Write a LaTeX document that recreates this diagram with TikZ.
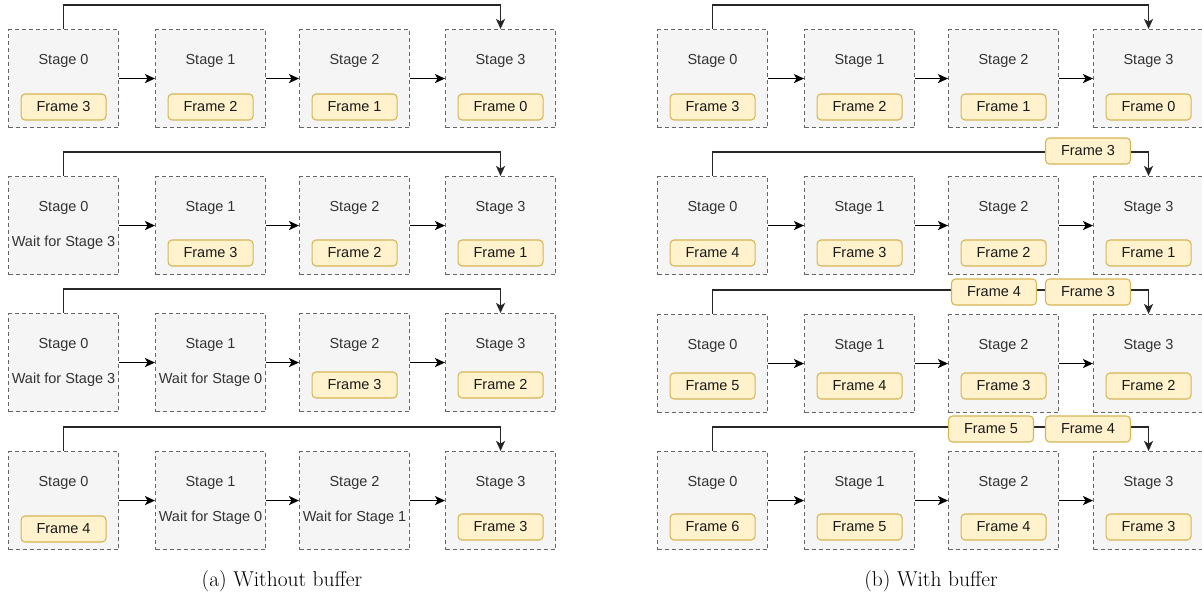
\documentclass[tikz,border=0pt]{standalone}
\usepackage{fontspec}
\newfontfamily\boxfont{Liberation Sans}
\usetikzlibrary{calc,arrows.meta}
\definecolor{boxfill}{HTML}{F5F5F5}
\definecolor{boxdraw}{HTML}{666666}
\definecolor{frmfill}{HTML}{FFF2CC}
\definecolor{frmdraw}{HTML}{D6B656}
\definecolor{txtgray}{HTML}{333333}
\tikzset{
  stg/.style={draw=boxdraw, dash pattern=on 4pt off 3pt, fill=boxfill, line width=1.1pt,
    minimum width=110, minimum height=98, inner sep=0pt, anchor=north west},
  stgtxt/.style={font=\boxfont\fontsize{14.5}{16}\selectfont, text=txtgray, inner sep=0pt},
  frm/.style={draw=frmdraw, fill=frmfill, rounded corners=4pt, line width=1.1pt,
    minimum width=85, minimum height=26, inner sep=0pt,
    font=\boxfont\fontsize{14.5}{16}\selectfont, text=black!90},
  arr/.style={-{Stealth[length=10pt,width=9pt,inset=2.5pt]}, line width=1.6pt, black},
  fb/.style={-{Stealth[length=10pt,width=9pt,inset=2.5pt]}, line width=1.3pt, black!85},
  captxt/.style={font=\fontsize{21.5}{24}\selectfont, inner sep=0pt, text=black},
}
\newcommand\StgBox[4]{%
  \node[stg] (#1) at (#2,#3) {};
  \node[stgtxt] (#1t) at ($(#1.north)+(0,32)$) {Stage #4};
}
\newcommand\FrmIn[3]{\node[frm] (#1f) at ($(#1.north)+(0,#3)$) {Frame #2};}
\newcommand\WaitIn[2]{\node[stgtxt] (#1w) at ($(#1.north)+(0,67)$) {Wait for Stage #2};}
\begin{document}
\begin{tikzpicture}[x=1pt,y=-1pt]
\useasboundingbox (0,0) rectangle (1202,597);
% ---------------- Left panel ----------------
% Row 1
\StgBox{La0}{8}{29}{0}\FrmIn{La0}{3}{78}
\StgBox{La1}{155}{29}{1}\FrmIn{La1}{2}{78}
\StgBox{La2}{299}{29}{2}\FrmIn{La2}{1}{78}
\StgBox{La3}{445}{29}{3}\FrmIn{La3}{0}{78}
% Row 2
\StgBox{Lb0}{8}{176}{0}\WaitIn{Lb0}{3}
\StgBox{Lb1}{155}{176}{1}\FrmIn{Lb1}{3}{77}
\StgBox{Lb2}{299}{176}{2}\FrmIn{Lb2}{2}{77}
\StgBox{Lb3}{445}{176}{3}\FrmIn{Lb3}{1}{77}
% Row 3
\StgBox{Lc0}{8}{313}{0}\WaitIn{Lc0}{3}
\StgBox{Lc1}{155}{313}{1}\WaitIn{Lc1}{0}
\StgBox{Lc2}{299}{313}{2}\FrmIn{Lc2}{3}{72}
\StgBox{Lc3}{445}{313}{3}\FrmIn{Lc3}{2}{72}
% Row 4
\StgBox{Ld0}{8}{451}{0}\FrmIn{Ld0}{4}{78}
\StgBox{Ld1}{155}{451}{1}\WaitIn{Ld1}{0}
\StgBox{Ld2}{299}{451}{2}\WaitIn{Ld2}{1}
\StgBox{Ld3}{445}{451}{3}\FrmIn{Ld3}{3}{76}
% ---------------- Right panel ----------------
\StgBox{Ra0}{657}{29}{0}\FrmIn{Ra0}{3}{78}
\StgBox{Ra1}{804}{29}{1}\FrmIn{Ra1}{2}{78}
\StgBox{Ra2}{948}{29}{2}\FrmIn{Ra2}{1}{78}
\StgBox{Ra3}{1093}{29}{3}\FrmIn{Ra3}{0}{78}
\StgBox{Rb0}{657}{176}{0}\FrmIn{Rb0}{4}{77}
\StgBox{Rb1}{804}{176}{1}\FrmIn{Rb1}{3}{77}
\StgBox{Rb2}{948}{176}{2}\FrmIn{Rb2}{2}{77}
\StgBox{Rb3}{1093}{176}{3}\FrmIn{Rb3}{1}{77}
\StgBox{Rc0}{657}{314}{0}\FrmIn{Rc0}{5}{72}
\StgBox{Rc1}{804}{314}{1}\FrmIn{Rc1}{4}{72}
\StgBox{Rc2}{948}{314}{2}\FrmIn{Rc2}{3}{72}
\StgBox{Rc3}{1093}{314}{3}\FrmIn{Rc3}{2}{72}
\StgBox{Rd0}{657}{451}{0}\FrmIn{Rd0}{6}{76}
\StgBox{Rd1}{804}{451}{1}\FrmIn{Rd1}{5}{76}
\StgBox{Rd2}{948}{451}{2}\FrmIn{Rd2}{4}{76}
\StgBox{Rd3}{1093}{451}{3}\FrmIn{Rd3}{3}{76}
% ---------------- Connectors ----------------
\foreach \r in {La,Lb,Lc,Ld,Ra,Rb,Rc,Rd}{
  \draw[arr] (\r0.east) -- (\r1.west);
  \draw[arr] (\r1.east) -- (\r2.west);
  \draw[arr] (\r2.east) -- (\r3.west);
  \draw[fb] (\r0.north) -- ++(0,-24) -| (\r3.north);
}
% buffer labels on feedback lines
\node[frm] (Rbq1) at (1088,151) {Frame 3};
\node[frm] (Rcq0) at (994,292) {Frame 4};
\node[frm] (Rcq1) at (1088,292) {Frame 3};
\node[frm] (Rdq0) at (991,429) {Frame 5};
\node[frm] (Rdq1) at (1088,429) {Frame 4};
% captions
\node[captxt] (capa) at (282,581) {(a) Without buffer};
\node[captxt] (capb) at (931,581) {(b) With buffer};
\end{tikzpicture}
\end{document}
